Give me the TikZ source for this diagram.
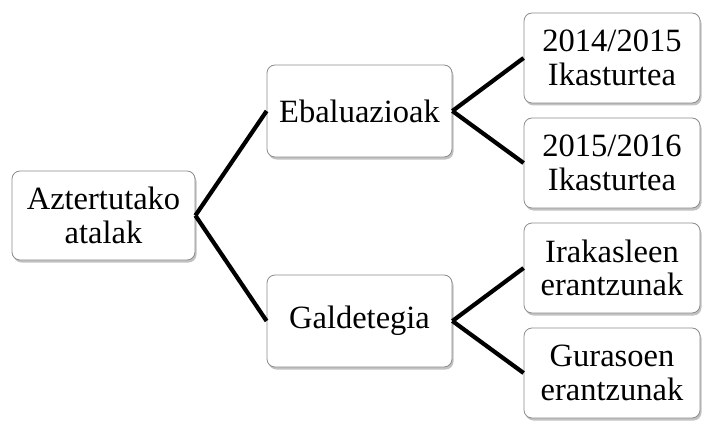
\documentclass[tikz,border=0pt]{standalone}
\usepackage{fontspec}
\setmainfont{Liberation Serif}
\usetikzlibrary{shadows}
\begin{document}
\begin{tikzpicture}[x=1pt,y=1pt,
  box/.style={draw=black!45, line width=0.8pt, fill=white, rounded corners=8pt,
    align=center, inner sep=0pt, font=\fontsize{32.5}{33.5}\selectfont,
    drop shadow={shadow xshift=1.5pt, shadow yshift=-2.5pt, opacity=0.4, fill=black!60}},
  conn/.style={line width=4.2pt, black}]
\useasboundingbox (0,0) rectangle (703,421);
\node[box, minimum width=183, minimum height=89] (root) at (103.5,205.5) {Aztertutako\\atalak};
\node[box, minimum width=185, minimum height=92] (ebal) at (359.5,310) {Ebaluazioak};
\node[box, minimum width=185, minimum height=92] (gald) at (359.5,100) {Galdetegia};
\node[box, minimum width=176, minimum height=90] (a1) at (612,363) {2014/2015\\Ikasturtea};
\node[box, minimum width=176, minimum height=90] (a2) at (612,258) {2015/2016\\Ikasturtea};
\node[box, minimum width=176, minimum height=90] (b1) at (612,153) {Irakasleen\\erantzunak};
\node[box, minimum width=176, minimum height=90] (b2) at (612,48) {Gurasoen\\erantzunak};
\draw[conn] (root.east) -- (ebal.west);
\draw[conn] (root.east) -- (gald.west);
\draw[conn] (ebal.east) -- (a1.west);
\draw[conn] (ebal.east) -- (a2.west);
\draw[conn] (gald.east) -- (b1.west);
\draw[conn] (gald.east) -- (b2.west);
\end{tikzpicture}
\end{document}
